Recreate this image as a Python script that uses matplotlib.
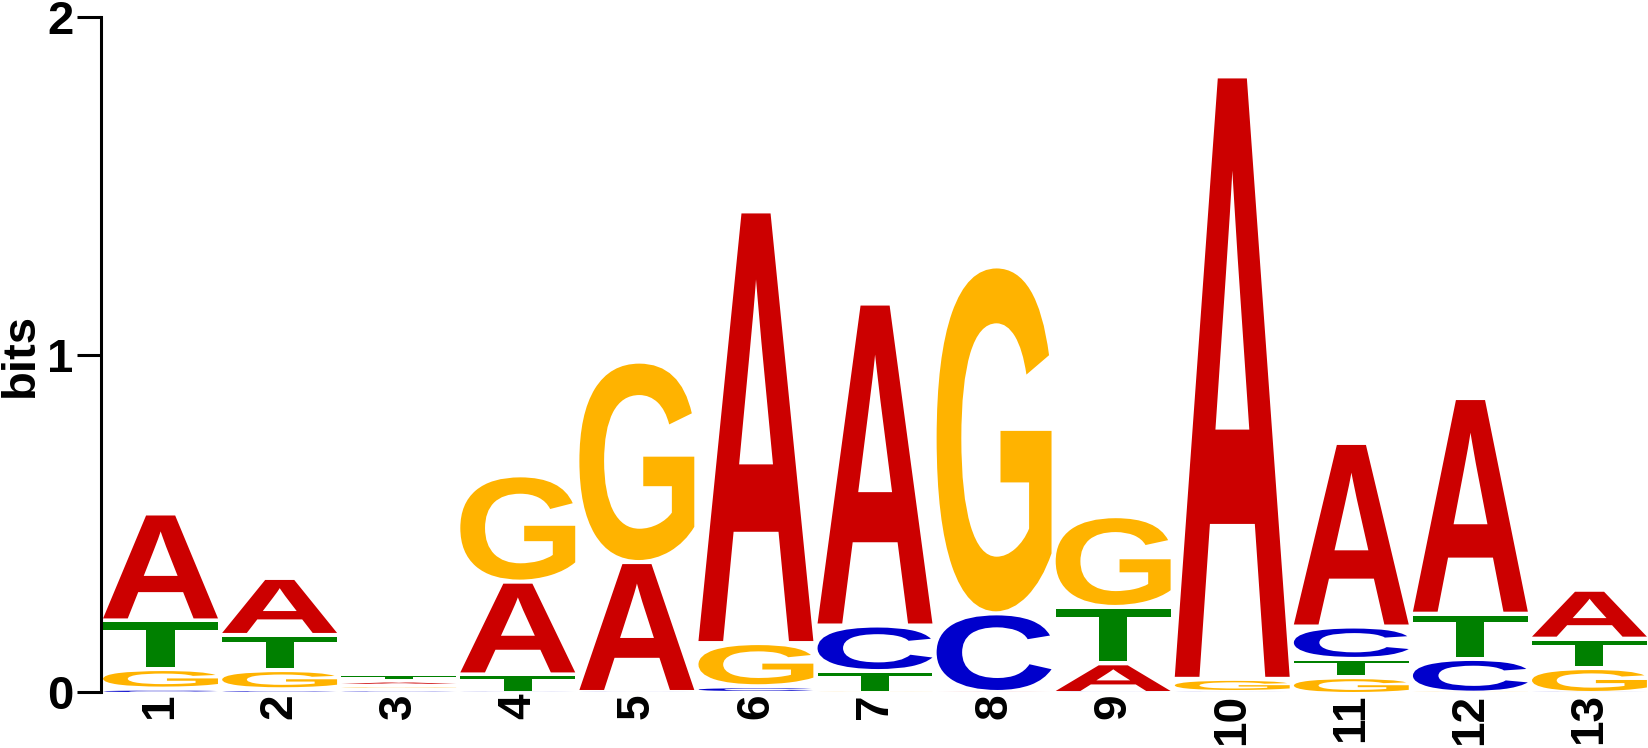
import matplotlib
matplotlib.use('Agg')
import matplotlib.pyplot as plt
from matplotlib.textpath import TextPath
from matplotlib.patches import PathPatch
from matplotlib.font_manager import FontProperties
from matplotlib.transforms import Affine2D

# information content (bits) per base at each position
positions = list(range(1, 14))
bits_A = [0.317, 0.169, 0.016, 0.275, 0.385, 1.279, 0.954, 0.003, 0.088, 1.785, 0.544, 0.639, 0.145]
bits_C = [0.016, 0.014, 0.012, 0.004, 0.003, 0.020, 0.135, 0.233, 0.003, 0.003, 0.096, 0.100, 0.003]
bits_G = [0.058, 0.057, 0.012, 0.315, 0.594, 0.128, 0.003, 1.028, 0.269, 0.039, 0.050, 0.004, 0.074]
bits_T = [0.144, 0.104, 0.018, 0.054, 0.003, 0.003, 0.065, 0.003, 0.167, 0.003, 0.054, 0.134, 0.087]

colors = {'A': '#cc0000', 'C': '#0000cc', 'G': '#ffb300', 'T': '#008000'}
font_name = 'Liberation Sans'
letter_font = FontProperties(family=font_name, weight='bold')


def draw_letter(ax, letter, x, y, w, h):
    tp = TextPath((0, 0), letter, size=1, prop=letter_font)
    bb = tp.get_extents()
    tr = (Affine2D().translate(-bb.x0, -bb.y0)
          .scale(w / bb.width, h / bb.height)
          .translate(x - w / 2, y))
    ax.add_patch(PathPatch(tr.transform_path(tp), facecolor=colors[letter],
                           edgecolor='none', lw=0))


fig = plt.figure(figsize=(16.49, 7.48), dpi=100)
ax = fig.add_axes([101 / 1649, 56 / 748, 1548 / 1649, 675 / 748])

width = 0.965
for i, pos in enumerate(positions):
    stack = [('A', bits_A[i]), ('C', bits_C[i]), ('G', bits_G[i]), ('T', bits_T[i])]
    stack.sort(key=lambda s: s[1])
    y = 0.0
    for letter, h in stack:
        gap = min(0.012, 0.9 * h)
        draw_letter(ax, letter, pos, y, width, h - gap)
        y += h

ax.set_xlim(0.5, 13.5)
ax.set_ylim(0, 2)

for side in ['top', 'right', 'bottom']:
    ax.spines[side].set_visible(False)
ax.spines['left'].set_linewidth(2.2)
ax.spines['left'].set_bounds(0, 2)

ax.set_yticks([0, 1, 2])
ax.set_yticklabels(['0', '1', '2'], fontsize=34, fontweight='bold', family=font_name)
ax.tick_params(axis='y', length=17, width=2.2, pad=3)

ax.set_xticks(positions)
ax.set_xticklabels([str(p) for p in positions], rotation=90, fontsize=33,
                   fontweight='bold', family=font_name)
ax.tick_params(axis='x', length=0, pad=1)

ax.set_ylabel('bits', fontsize=34, fontweight='bold', family=font_name, labelpad=3)

fig.savefig('out.png', dpi=100)
